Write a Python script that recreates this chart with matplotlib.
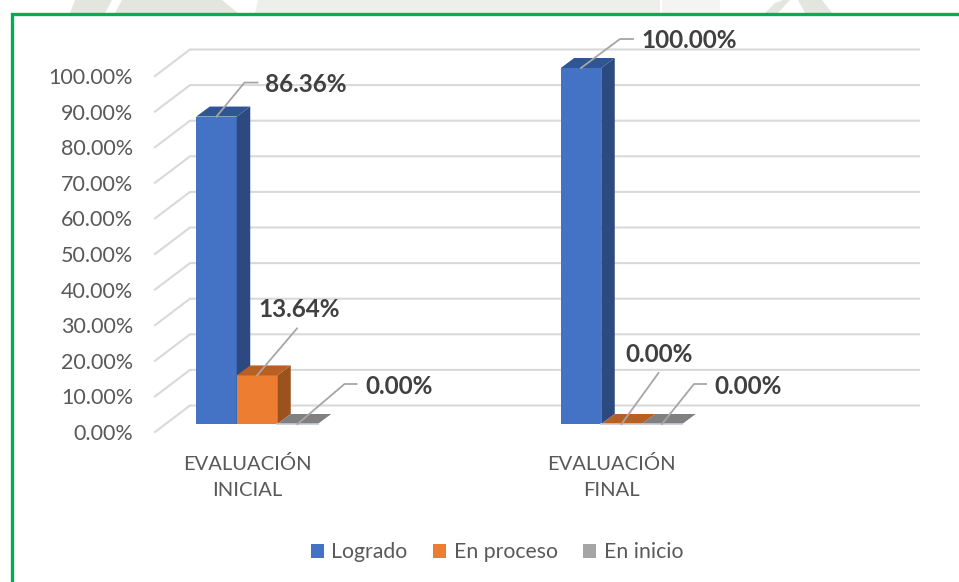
import matplotlib
matplotlib.use("Agg")
import matplotlib.pyplot as plt
from matplotlib.patches import Patch, Polygon
from matplotlib.transforms import ScaledTranslation

categories = ["EVALUACIÓN\nINICIAL", "EVALUACIÓN\nFINAL"]
series_names = ["Logrado", "En proceso", "En inicio"]
logrado = [86.36, 100.00]
en_proceso = [13.64, 0.00]
en_inicio = [0.00, 0.00]
y_ticks = list(range(0, 101, 10))

W, H = 959, 582
plt.rcParams["font.family"] = ["Lato", "DejaVu Sans"]
fig = plt.figure(figsize=(W / 100, H / 100), dpi=100, facecolor="white")

# Faint remains of the page's background picture above the frame
WM = [([(70, 13), (75, 0), (112, 0), (105, 13)], "#E2E6DE"),
      ([(115, 13), (122, 0), (222, 0), (238, 13)], "#E2E6DE"),
      ([(255, 13), (258, 0), (660, 0), (660, 13)], "#EDEFEA"),
      ([(662, 13), (662, 0), (720, 0), (720, 13)], "#F4F5F2"),
      ([(765, 13), (775, 3), (783, 0), (790, 0), (778, 13)], "#E2E6DE"),
      ([(805, 13), (798, 0), (822, 0), (832, 13)], "#E2E6DE")]
for poly, col in WM:
    fig.add_artist(Polygon([(x / W, 1 - y / H) for x, y in poly], closed=True, fc=col, ec="none",
                           transform=fig.transFigure))

# Pixel frame of the plane holding the bar fronts
L, R, T, B = 155, 919, 68, 424
ax = fig.add_axes([L / W, 1 - B / H, (R - L) / W, (B - T) / H])
GROUP_PX = 364.5
C0 = 257
ax.set_xlim((L - C0) / GROUP_PX, (R - C0) / GROUP_PX)
ax.set_ylim(0, 100)
ax.patch.set_alpha(0)
for s in ax.spines.values():
    s.set_visible(False)

ux = (R - L) / (ax.get_xlim()[1] - ax.get_xlim()[0])
uy = (B - T) / 100.0


def off(x, y, dx=0.0, dy=0.0):
    """Shift a data point by a pixel offset (dy positive = up)."""
    return x + dx / ux, y + dy / uy


# Walls and gridlines
for t in y_ticks:
    pts = [off(0, t, L - C0, -8), off(0, t, 190 - C0, 18.5), off(0, t, 919 - C0, 18.5)]
    ax.plot(*zip(*pts), color="#D9D9D9", lw=1.5, clip_on=False, zorder=1, solid_joinstyle="miter")

# Bars
bar_w = 40.5 / GROUP_PX
DX, DY = 13.5, 10
faces = ["#4472C4", "#ED7D31", "#A5A5A5"]
sides = ["#2C4A80", "#9C521F", "#6E6E6E"]
tops = ["#2F5597", "#B85F24", "#808080"]
all_series = [logrado, en_proceso, en_inicio]
for i, vals in enumerate(all_series):
    for c, v in enumerate(vals):
        x0 = c + (i - 1.5) * bar_w
        x1 = x0 + bar_w
        z = 3 + i + 3 * c
        ax.bar(x0, v, width=bar_w, align="edge", color=faces[i], zorder=z, linewidth=0, clip_on=False)
        ax.add_patch(Polygon([off(x1, 0), off(x1, 0, DX, DY), off(x1, v, DX, DY), off(x1, v)],
                             closed=True, fc=sides[i], ec="none", zorder=z, clip_on=False))
        ax.add_patch(Polygon([off(x0, v), off(x1, v), off(x1, v, DX, DY), off(x0, v, DX, DY)],
                             closed=True, fc=tops[i], ec="none", zorder=z, clip_on=False))
        if v == 0:
            ax.plot([x0, x1], [0, 0], color="#C4CAD6", lw=1.2, zorder=z + 0.1, clip_on=False)

# Data labels with leader lines: (pixel bends from the bar anchor, text offset)
LEADER = {
    (0, 0): ([(28, 34), (41, 34)], (48, 32)),
    (1, 0): ([(40, 47)], (1, 66)),
    (2, 0): ([(47, 40), (59, 40)], (68, 37)),
    (0, 1): ([(39, 29), (52, 29)], (60, 27)),
    (1, 1): ([(37, 51)], (4, 70)),
    (2, 1): ([(32, 40), (44, 40)], (52, 37)),
}
for i, vals in enumerate(all_series):
    for c, v in enumerate(vals):
        xc = c + (i - 1) * bar_w
        bends, (tx, ty) = LEADER[(i, c)]
        pts = [(xc, v)] + [off(xc, v, a, b) for a, b in bends]
        ax.plot(*zip(*pts), color="#A6A6A6", lw=1.3, clip_on=False, zorder=20)
        ax.annotate(f"{v:.2f}%", xy=(xc, v), xytext=(tx, ty), textcoords="offset pixels",
                    ha="left", va="center", fontsize=17.5, fontweight="bold",
                    color="#404040", zorder=21, annotation_clip=False)

# Axis labels
ax.set_yticks(y_ticks, [f"{t:.2f}%" for t in y_ticks])
ax.tick_params(axis="y", length=0, pad=15.8, labelsize=15.5, labelcolor="#595959")
ax.set_xticks([0, 1], categories)
ax.tick_params(axis="x", length=0, pad=22.5, labelsize=14.5, labelcolor="#595959")
for lab in ax.get_yticklabels():
    lab.set_transform(lab.get_transform() + ScaledTranslation(0, -8 / 100, fig.dpi_scale_trans))
for lab in ax.get_xticklabels():
    lab.set_transform(lab.get_transform() + ScaledTranslation(-10 / 100, 0, fig.dpi_scale_trans))
    lab.set_linespacing(1.62)

# Legend
handles = [Patch(fc=faces[i], ec="none", label=series_names[i]) for i in range(3)]
fig.legend(handles=handles, loc="center", bbox_to_anchor=(497 / W, 1 - 552.5 / H), ncol=3,
           frameon=False, fontsize=15.3, labelcolor="#595959", handlelength=0.62, handleheight=0.62,
           handletextpad=0.35, columnspacing=1.2, borderpad=0)

# Green frame: top and left only; the picture crops the rest
fig.add_artist(plt.Line2D([11.5 / W, 11.5 / W, 1], [0, 1 - 13.5 / H, 1 - 13.5 / H],
                          color="#00B050", lw=2.4, solid_joinstyle="miter", zorder=10))

fig.savefig("out.png", dpi=100)
